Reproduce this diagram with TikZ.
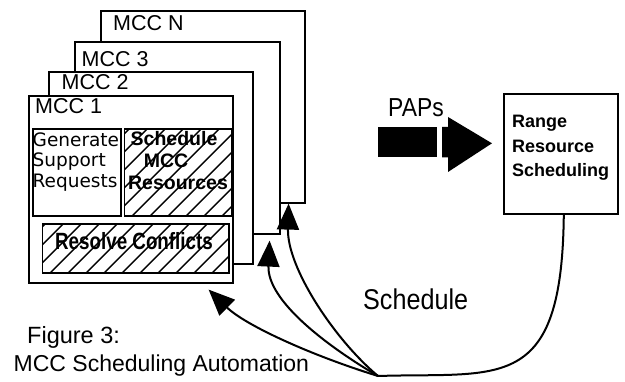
\documentclass[tikz,border=0pt]{standalone}
\usepackage{fontspec}
\setmainfont{Liberation Sans}
\newfontfamily\genfont{DejaVu Sans}
\newfontfamily\condfont[FakeStretch=0.88]{Liberation Sans}
\newfontfamily\rfont[FakeStretch=0.8]{Liberation Sans}
\usetikzlibrary{arrows.meta}
\begin{document}
\begin{tikzpicture}[x=1pt,y=-1pt,
  mcc/.style={draw, fill=white, line width=1.6pt, inner sep=0pt, anchor=north west},
  plainbox/.style={draw, line width=1.6pt, inner sep=0pt, anchor=north west},
  hatch/.style={plainbox, path picture={
      \foreach \k in {0,...,18}
        \draw[line width=1.3pt] ([xshift=\k*18pt-100pt]path picture bounding box.south west) -- ++(260pt,260pt);}},
  mcclabel/.style={inner sep=0pt, anchor=base west, font=\fontsize{21.5}{24}\selectfont},
  gentext/.style={inner sep=0pt, anchor=base west, font=\genfont\fontsize{18.5}{20}\selectfont},
  schtext/.style={inner sep=0pt, anchor=base, font=\bfseries\fontsize{19.5}{20}\selectfont},
  rrstext/.style={inner sep=0pt, anchor=base west, font=\bfseries\fontsize{18}{20}\selectfont},
  conn/.style={line width=2pt},
  tip/.style={-{Triangle[length=26pt,width=22pt]}}
]
\useasboundingbox (0,0) rectangle (625,382);

% stacked MCC boxes
\node[mcc, minimum width=204pt, minimum height=192pt] (mccN) at (100,10) {};
\node[mcclabel] (labN) at (113,31) {MCC N};
\node[mcc, minimum width=205pt, minimum height=192pt] (mcc3) at (74,41) {};
\node[mcclabel] (lab3) at (81.5,67) {MCC 3};
\node[mcc, minimum width=204pt, minimum height=192pt] (mcc2) at (48,71) {};
\node[mcclabel] (lab2) at (61.5,90) {MCC 2};
\node[mcc, minimum width=204pt, minimum height=187pt] (mcc1) at (28,95) {};
\node[mcclabel] (lab1) at (35,113.5) {MCC 1};

% inner boxes
\node[plainbox, minimum width=88pt, minimum height=87pt] (gen) at (32,128) {};
\node[gentext] (g1) at (32.5,147) {Generate};
\node[gentext] (g2) at (32.5,167) {Support};
\node[gentext] (g3) at (32.5,188) {Requests};

\node[hatch, minimum width=107pt, minimum height=87pt] (sch) at (123.5,128) {};
\node[schtext] (s1) at (174,146) {Schedule};
\node[schtext] (s2) at (166,168) {MCC};
\node[schtext] (s3) at (178,190) {Resources};

\node[hatch, minimum width=186.5pt, minimum height=48.5pt] (res) at (41.5,223.5) {};
\node[inner sep=0pt, anchor=base, font=\rfont\bfseries\fontsize{23.5}{24}\selectfont] (rtxt) at (134,250) {Resolve Conflicts};

% range resource scheduling
\node[plainbox, minimum width=114pt, minimum height=120pt] (rrs) at (503,93) {};
\node[rrstext] (r1) at (512,128) {Range};
\node[rrstext] (r2) at (512,153) {Resource};
\node[rrstext] (r3) at (512,177) {Scheduling};

% PAPs arrow
\node[inner sep=0pt, anchor=base west, font=\condfont\fontsize{26}{28}\selectfont] (paps) at (388,116.5) {PAPs};
\fill (378.3,126.7) rectangle (436.7,157.5);
\fill (442,127) -- (448,127) -- (448,117) -- (492,143.3) -- (448,172) -- (448,157.5) -- (442,157.5) -- cycle;

% schedule connectors
\coordinate (J) at (378,376);
\draw[conn] ([xshift=3pt]rrs.south) .. controls (562,395) and (500,372) .. (J);
\draw[conn,tip] (J) .. controls (310,355) and (245,325) .. ([xshift=-25pt,yshift=-6pt]mcc1.south east);
\draw[conn,tip] (J) .. controls (325,345) and (267,300) .. ([xshift=-11pt,yshift=-6pt]mcc3.south east);
\draw[conn,tip] (J) .. controls (335,340) and (287,268) .. ([xshift=-17pt]mccN.south east);

\node[inner sep=0pt, anchor=base west, font=\condfont\fontsize{28.6}{30}\selectfont] (schlab) at (363,310) {Schedule};

% caption
\node[inner sep=0pt, anchor=base west, font=\fontsize{23.5}{25}\selectfont] (cap1) at (27,343.5) {Figure 3:};
\node[inner sep=0pt, anchor=base west, font=\fontsize{23}{25}\selectfont] (cap2) at (13.5,371.5) {MCC Scheduling Automation};
\end{tikzpicture}
\end{document}
